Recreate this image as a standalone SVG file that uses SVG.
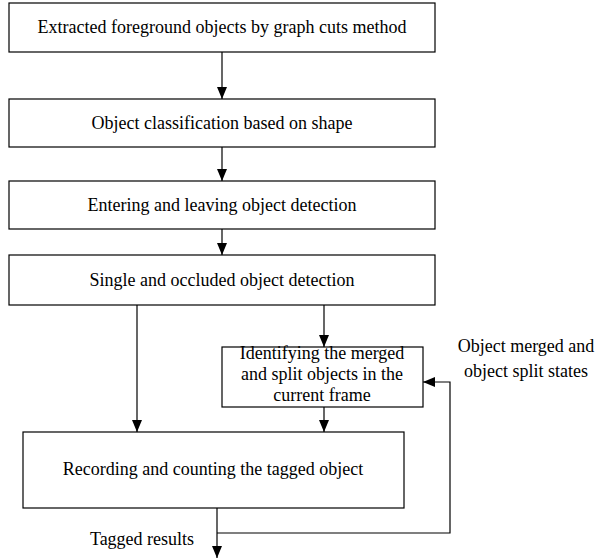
<svg xmlns="http://www.w3.org/2000/svg" width="599" height="559" viewBox="0 0 599 559">
<style>
.box{fill:#fff;stroke:#000;stroke-width:1.2}
.t{font-family:"Liberation Serif","Times New Roman",serif;font-size:18px;fill:#000;text-anchor:middle}
.c{fill:none;stroke:#000;stroke-width:1.2}
</style>
<defs>
<marker id="a" viewBox="0 0 12 10" refX="12" refY="5" markerWidth="12" markerHeight="10" orient="auto" markerUnits="userSpaceOnUse">
<path d="M0,0 L12,5 L0,10 Z" fill="#000"/>
</marker>
</defs>
<rect width="599" height="559" fill="#fff"/>
<g id="n1"><rect class="box" x="9" y="3" width="426" height="49"/><text class="t" x="222" y="33">Extracted foreground objects by graph cuts method</text></g>
<g id="n2"><rect class="box" x="9" y="99" width="426" height="48"/><text class="t" x="222" y="129">Object classification based on shape</text></g>
<g id="n3"><rect class="box" x="9" y="181" width="426" height="48"/><text class="t" x="222" y="211">Entering and leaving object detection</text></g>
<g id="n4"><rect class="box" x="9" y="255" width="426" height="50"/><text class="t" x="222" y="286">Single and occluded object detection</text></g>
<g id="n5"><rect class="box" x="222" y="347" width="201" height="60"/><text class="t" x="322" y="359">Identifying the merged</text><text class="t" x="322" y="380">and split objects in the</text><text class="t" x="322" y="401">current frame</text></g>
<g id="n6"><rect class="box" x="23" y="432" width="381" height="76"/><text class="t" x="213" y="475">Recording and counting the tagged object</text></g>
<g id="l1"><text class="t" x="526" y="352">Object merged and</text><text class="t" x="526" y="377">object split states</text></g>
<g id="l2"><text class="t" x="142" y="545">Tagged results</text></g>
<g id="connectors">
<line class="c" x1="222" y1="52" x2="222" y2="99" marker-end="url(#a)"/>
<line class="c" x1="222" y1="147" x2="222" y2="181" marker-end="url(#a)"/>
<line class="c" x1="222" y1="229" x2="222" y2="255" marker-end="url(#a)"/>
<line class="c" x1="324" y1="305" x2="324" y2="347" marker-end="url(#a)"/>
<line class="c" x1="137" y1="305" x2="137" y2="432" marker-end="url(#a)"/>
<line class="c" x1="324" y1="407" x2="324" y2="432" marker-end="url(#a)"/>
<line class="c" x1="217" y1="508" x2="217" y2="558" marker-end="url(#a)"/>
<polyline class="c" points="217,533 450,533 450,382 423,382" marker-end="url(#a)"/>
</g>
</svg>
